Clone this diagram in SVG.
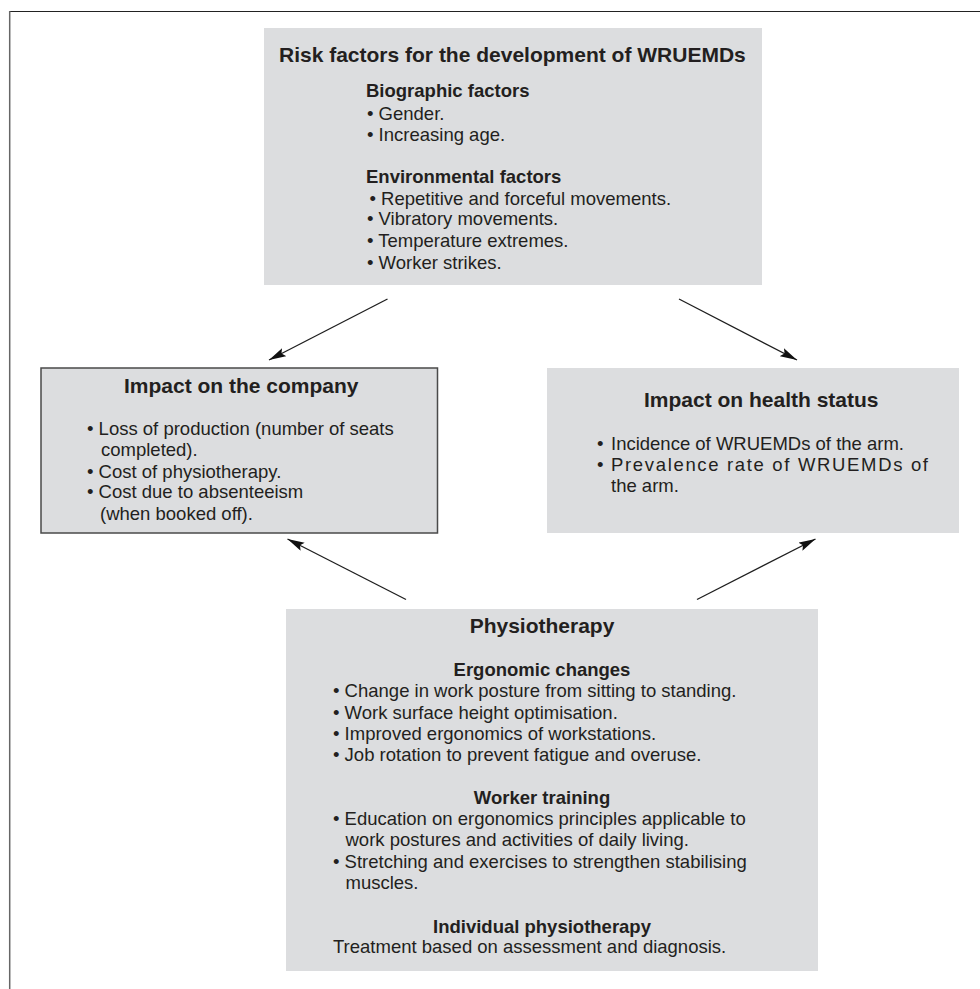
<svg xmlns="http://www.w3.org/2000/svg" width="980" height="989" viewBox="0 0 980 989">
<defs>
<style>
.box{fill:#dcdddf}
.bord{stroke:#4a4a4a;stroke-width:1.5}
text{font-family:"Liberation Sans",Arial,Helvetica,sans-serif;fill:#231f20}
.t{font-size:21px;font-weight:bold}
.h{font-size:18.5px;font-weight:bold}
.b{font-size:18.5px}
.c{text-anchor:middle}
.conn{stroke:#1e1e1e;stroke-width:1.3;fill:none;marker-end:url(#ah)}
</style>
<marker id="ah" markerUnits="userSpaceOnUse" markerWidth="18" markerHeight="10" refX="17" refY="4.5" orient="auto">
<path d="M0,0 L17,4.5 L0,9 L3,4.5 z" fill="#111"/>
</marker>
</defs>
<rect width="980" height="989" fill="#fff"/>
<g id="frame">
<line x1="9" y1="11.5" x2="980" y2="11.5" stroke="#222" stroke-width="1.2"/>
<line x1="9.7" y1="11" x2="9.7" y2="989" stroke="#666" stroke-width="1.5"/>
</g>
<g id="risk">
<rect class="box" x="264" y="28" width="498" height="257"/>
<text class="t" x="279" y="62">Risk factors for the development of WRUEMDs</text>
<text class="h" x="366" y="97">Biographic factors</text>
<text class="b" x="367" y="119.5">• Gender.</text>
<text class="b" x="367" y="141">• Increasing age.</text>
<text class="h" x="366" y="182.5">Environmental factors</text>
<text class="b" x="369.5" y="204.5">• Repetitive and forceful movements.</text>
<text class="b" x="367" y="225">• Vibratory movements.</text>
<text class="b" x="367" y="246.5">• Temperature extremes.</text>
<text class="b" x="367" y="268.5">• Worker strikes.</text>
</g>
<g id="company">
<rect class="box bord" x="41" y="368" width="396.5" height="165"/>
<text class="t" x="124" y="392.5">Impact on the company</text>
<text class="b" x="87" y="435">• Loss of production (number of seats</text>
<text class="b" x="101" y="456">completed).</text>
<text class="b" x="87" y="477.5">• Cost of physiotherapy.</text>
<text class="b" x="87" y="498">• Cost due to absenteeism</text>
<text class="b" x="100" y="520">(when booked off).</text>
</g>
<g id="health">
<rect class="box" x="547" y="368" width="412" height="165"/>
<text class="t" x="644" y="407">Impact on health status</text>
<text class="b" x="597" y="449.5">•</text>
<text class="b" x="611" y="449.5">Incidence of WRUEMDs of the arm.</text>
<text class="b" x="597" y="471">•</text>
<text class="b" x="611" y="471" textLength="317" lengthAdjust="spacing">Prevalence rate of WRUEMDs of</text>
<text class="b" x="611" y="492">the arm.</text>
</g>
<g id="physio">
<rect class="box" x="286" y="609" width="532" height="362"/>
<text class="t c" x="542" y="633">Physiotherapy</text>
<text class="h c" x="542" y="676">Ergonomic changes</text>
<text class="b" x="333" y="697">• Change in work posture from sitting to standing.</text>
<text class="b" x="333" y="718.5">• Work surface height optimisation.</text>
<text class="b" x="333" y="739.5">• Improved ergonomics of workstations.</text>
<text class="b" x="333" y="761">• Job rotation to prevent fatigue and overuse.</text>
<text class="h c" x="542" y="804">Worker training</text>
<text class="b" x="333" y="825">• Education on ergonomics principles applicable to</text>
<text class="b" x="345.5" y="846">work postures and activities of daily living.</text>
<text class="b" x="333" y="868">• Stretching and exercises to strengthen stabilising</text>
<text class="b" x="345.5" y="888.5">muscles.</text>
<text class="h c" x="542" y="932.5">Individual physiotherapy</text>
<text class="b" x="333" y="953">Treatment based on assessment and diagnosis.</text>
</g>
<g id="connectors">
<line class="conn" x1="387.5" y1="299" x2="269" y2="360"/>
<line class="conn" x1="679" y1="299" x2="797" y2="360"/>
<line class="conn" x1="406" y1="599.5" x2="287.5" y2="539"/>
<line class="conn" x1="697" y1="599.5" x2="815.5" y2="539"/>
</g>
</svg>
